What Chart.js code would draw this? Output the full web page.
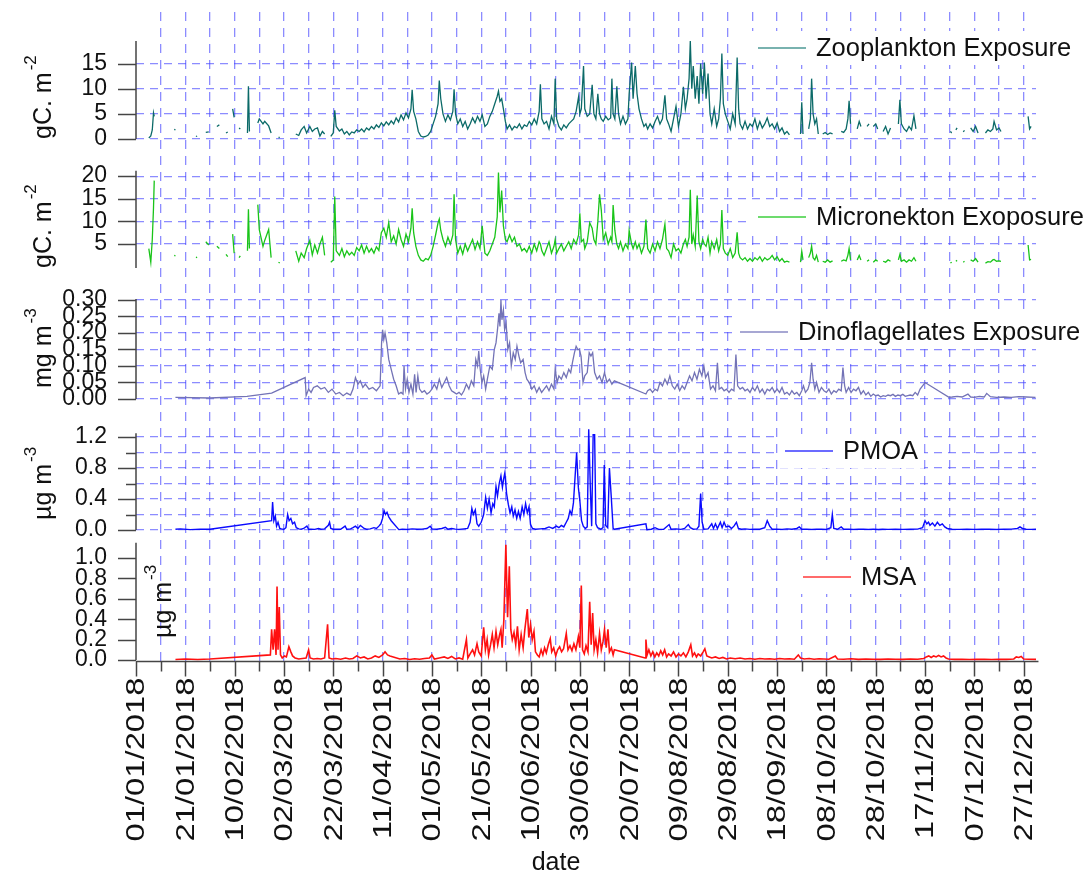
<!DOCTYPE html>
<html>
<head>
<meta charset="utf-8">
<title>Exposure and aerosol time series 2018</title>
<script src="https://cdn.jsdelivr.net/npm/chart.js@4.4.1/dist/chart.umd.min.js"></script>
<style>
  html, body { margin: 0; padding: 0; background: #fff; }
</style>
</head>
<body>
<canvas id="exposureChart" width="1091" height="881"></canvas>
<script>
// [day of 2018 (0 = 01/01/2018), value]; null breaks the line
const zooplankton = [
  [5.2,0.2],[6.0,0.6],[6.6,1.8],[7.1,5.2],[7.4,4.5],[8,null],
  [15.5,1.9],[16,1.8],[16.5,null],[24.3,0.5],[24.8,0.6],[25.3,null],
  [28.3,1.3],[29.5,1.4],[30,null],[32.8,2.5],[33.8,2.8],[34.3,null],
  [36.5,1.2],[37.2,1.4],[37.7,null],[39.2,6],[39.8,4.3],[40.3,null],
  [41.8,2.2],[42.3,2],[42.8,null],[45.2,1.2],[45.6,10.5],[46,1.5],[46.5,null],
  [49.4,3.2],[50,4],[51.5,3],[52.2,3.5],[53.8,2.6],[54.8,1.2],[55.3,null],
  [57.8,0.3],[58.3,0.3],[58.8,null],
  [64.8,1],[66,0.7],[67,1.8],[68.2,2.5],[69.2,1.2],[70.5,2.5],[71.5,1.5],[72.5,2],[73.6,2.2],[74.6,0.6],[75.6,1.5],[76.5,1.0],[77.2,null],
  [79,0.5],[80,1.2],[80.6,5.7],[81.2,2.5],[82.5,1.6],[83.5,2.0],[84.5,1.0],[85.5,1.5],[86.5,0.8],[87.5,1.4],[88.5,1.2],[89.5,1.8],
  [90.5,1.5],[91.5,2.0],[92.5,1.4],[93.5,2.2],[94.5,1.8],[95.5,2.5],[96.5,2.0],[97.5,2.8],[98.5,2.3],[99.5,3.2],
  [100.5,2.6],[101.5,3.4],[102.5,2.8],[103.5,3.6],[104.5,3.0],[105.5,4.2],[106.5,3.4],[107.5,4.8],[108.5,3.8],[109.5,5.2],
  [110.5,4.2],[111.5,6.0],[112,9.8],[112.6,5.5],[113.5,4.0],[114.5,1.5],[115.5,0.6],[116.5,0.4],[117.5,0.5],[118.5,0.8],[119.5,1.5],
  [120.5,3.0],[121.5,4.5],[122.5,7.0],[123,11.6],[123.6,8.0],[124.5,5.0],[125.5,3.5],[126.5,4.8],[127.5,3.8],[128.5,5.5],[129,9.9],[129.6,5.0],
  [130.5,3.0],[131.5,4.0],[132.5,2.5],[133.5,3.5],[134.5,2.0],[135.5,3.0],[136.5,4.2],[137.5,3.2],[138.5,4.5],[139.5,3.5],
  [140.4,4.8],[141.5,2.5],[142.5,3.0],[143.5,4.5],[144.5,5.5],[145.5,7.0],[146.5,8.5],[147,9.5],[147.6,7.5],[148.3,8.0],[149,6.0],[149.8,3.5],
  [150.5,2.0],[151.5,2.8],[152.5,1.8],[153.5,2.5],[154.5,2.2],[155.5,3.0],[156.5,2.0],[157.5,2.8],[158.5,2.5],[159.5,3.5],
  [160.5,2.8],[161.5,4.0],[162.5,3.0],[163.5,5.5],[164,10.9],[164.6,4.0],[165.5,3.0],[166.5,3.5],[167.5,2.0],[168.5,4.5],[169.5,3.0],
  [170,12.0],[170.6,4.0],[171.5,2.5],[172.5,1.8],[173.5,2.8],[174.5,2.2],[175.5,3.0],[176.5,3.5],[177.5,4.0],[178.5,5.5],[179.5,8.4],
  [180,5.0],[180.6,6.0],[181.5,14.5],[182,6.0],[183,4.5],[184,5.0],[185,10.8],[185.7,5.0],[186.5,4.0],[187.3,9.0],[188,5.0],[188.7,4.0],[189.5,3.5],
  [190.5,4.5],[191.5,3.8],[192.5,4.2],[193,12.0],[193.5,5.0],[194.2,4.0],[195,10.5],[195.7,5.0],[196.5,3.0],[197.5,4.5],[198.5,3.0],[199.5,4.0],
  [200,9.0],[201,15.2],[201.6,8.0],[202.5,14.5],[203.2,9.0],[204,6.0],[205,4.0],[206,2.5],[206.8,3.0],[207.5,2.0],[208.5,3.0],[209.5,2.2],
  [210.5,3.5],[211.5,4.5],[212.5,3.0],[213.5,4.0],[214.5,8.7],[215.2,4.0],[216,3.0],[217,1.5],[218,4.0],[219,6.5],
  [220,2.5],[221,5.0],[222,10.4],[222.8,6.0],[223.5,8.0],[224.3,12.0],[224.8,19.5],[225.4,10.0],[226,14.5],[226.8,8.0],[227.6,12.5],[228.3,7.0],[229,15.0],[229.8,9.0],
  [230.5,15.2],[231.2,8.0],[232,13.0],[232.8,5.0],[233.5,3.0],[234.5,6.0],[235.5,2.5],[236.3,4.0],[237,8.0],[237.6,17.0],[238.2,7.0],[239,5.0],
  [240,3.5],[241,2.0],[242,5.0],[243,3.0],[243.8,16.2],[244.4,6.0],[245,3.0],[246,2.0],[247,3.5],[248,2.0],[249,3.0],
  [250,2.5],[251,4.0],[252,2.0],[253,3.5],[254,2.2],[255,3.0],[256,4.2],[257,2.5],[258,3.0],[259,2.0],
  [260,3.2],[261,1.5],[262,2.2],[263,1.0],[264,1.5],[265,0.8],[265.5,null],
  [269.5,1.0],[270,7.3],[270.5,1.0],[271,null],
  [272.8,2.0],[273.5,4.0],[274,12.0],[274.6,5.0],[275.3,3.0],[276,4.0],[276.7,1.0],[277.2,null],
  [278.5,1.0],[279.5,1.3],[280.5,0.9],[281.5,1.2],[282.5,1.0],[283,null],
  [286,1.5],[287,1.3],[288,2.0],[288.7,4.0],[289.2,7.6],[289.8,3.0],[290.3,null],
  [292.5,2.0],[293.3,3.5],[294,2.5],[294.5,null],[296.5,2.5],[297.3,3.0],[297.8,null],
  [299,2.5],[300,3.0],[300.8,2.0],[301.3,null],[303,1.5],[304,2.5],[305,1.0],[306,2.2],[306.5,null],
  [309.2,3.0],[309.8,7.8],[310.4,3.0],[311.5,2.0],[312.5,1.5],[313.5,2.5],[314.5,1.8],[315.5,4.6],[316.3,2.0],[316.8,null],
  [330.3,1.5],[330.8,1.2],[331.3,null],[332.5,1.8],[333,2.2],[333.5,null],[335.5,1.4],[336,1.7],[336.5,null],
  [338.5,2.2],[339.5,1.5],[340.5,2.5],[341.5,1.2],[342,null],
  [344.5,1.2],[345.5,1.8],[346.5,1.5],[347.5,2.0],[348,3.5],[349,1.8],[350,2.2],[350.8,1.5],[351.3,null],
  [361.8,4.5],[362.4,2.0],[363,2.5]
];

const micronekton = [
  [5.2,4],[6.0,1],[6.6,6],[7.1,13],[7.4,19],[8,null],
  [15.5,2.5],[16,2.4],[16.5,null],[24.3,2],[24.8,2.1],[25.3,null],
  [28.3,5.5],[29.5,4.8],[30,null],[32.8,4.5],[33.8,4],[34.3,null],
  [36.5,2.7],[37.2,2.2],[37.7,null],[39.2,7.2],[39.8,3],[40.3,null],
  [41.8,2],[42.3,2.4],[42.8,null],[45.2,3.5],[45.6,12.7],[46,4],[46.5,null],
  [49.4,13.7],[50,8.2],[51.5,4.5],[52.2,5.8],[53.8,8.2],[54.8,2],[55.3,null],
  [57.8,1],[58.3,0.8],[58.8,null],
  [64.8,3.5],[66,1.2],[67,3],[68.2,2],[69.2,4],[70.5,5.8],[71.5,2.6],[72.5,4.8],[73.6,3],[74.6,5],[75.6,6.5],[76.5,2.5],[77.2,null],
  [79,1],[80,1.5],[80.6,15.5],[81.2,3.5],[82.5,2.5],[83.5,4],[84.5,2.2],[85.5,3.5],[86.5,2.6],[87.5,3.2],[88.5,2.5],[89.5,4.2],
  [90.5,3.5],[91.5,4.8],[92.5,3],[93.5,4.5],[94.5,3.2],[95.5,4.0],[96.5,3.0],[97.5,4.4],[98.5,3.6],[99.5,7.5],
  [100.5,8.5],[101.5,6.5],[102.5,9.7],[103.5,5.5],[104.5,6.8],[105.5,5.0],[106.5,8.2],[107.5,6.0],[108.5,4.5],[109.5,7.2],
  [110.5,5.5],[111.5,8.5],[112,12.9],[112.6,7.5],[113.5,4.5],[114.5,2.5],[115.5,1.5],[116.5,1.2],[117.5,1.8],[118.5,1.5],[119.5,2.5],
  [120.5,4.5],[121.5,7.0],[122.5,9.7],[123,10.5],[123.6,8.0],[124.5,6.0],[125.5,4.5],[126.5,6.5],[127.5,5.0],[128.5,7.0],[129,16],[129.6,6.0],
  [130.5,3.0],[131.5,4.5],[132.5,2.8],[133.5,5.0],[134.5,3.5],[135.5,4.8],[136.5,6.0],[137.5,3.8],[138.5,5.5],[139.5,4.0],
  [140.4,9.0],[141.5,3.0],[142.5,2.5],[143.5,3.5],[144.5,5.0],[145.5,6.5],[146.5,11.0],[147,20.8],[147.6,12],[148.3,16.8],[149,9.0],[149.8,6.0],
  [150.5,5.5],[151.5,7.0],[152.5,5.5],[153.5,6.5],[154.5,4.5],[155.5,5.0],[156.5,3.5],[157.5,4.0],[158.5,3.2],[159.5,4.5],
  [160.5,3.0],[161.5,5.0],[162.5,3.5],[163.5,5.5],[164,5],[164.6,3.5],[165.5,2.5],[166.5,4.0],[167.5,5.5],[168.5,3.0],[169.5,4.5],
  [170,6.0],[170.6,3.0],[171.5,4.0],[172.5,5.0],[173.5,3.5],[174.5,4.5],[175.5,5.5],[176.5,4.0],[177.5,6.0],[178.5,5.0],[179.5,7.0],
  [180,11.8],[180.6,5.5],[181.5,6.0],[182,4.0],[183,5.5],[184,9.7],[185,8.5],[185.7,6.0],[186.5,5.0],[187.3,10.0],[188,16.0],[188.7,12.5],[189.5,6.0],
  [190.5,7.5],[191.5,5.0],[192.5,6.5],[193,5.5],[193.5,13.6],[194.2,8.0],[195,5.0],[195.7,4.0],[196.5,5.5],[197.5,3.5],[198.5,5.0],[199.5,4.0],
  [200,8.0],[201,5.0],[201.6,4.0],[202.5,5.5],[203.2,4.0],[204,5.0],[205,3.0],[206,4.5],[206.8,10.4],[207.5,4.0],[208.5,3.0],[209.5,5.0],
  [210.5,3.5],[211.5,5.5],[212.5,4.0],[213.5,6.0],[214.5,9.4],[215.2,4.0],[216,3.5],[217,2.0],[218,5.0],[219,3.5],
  [220,4.0],[221,3.0],[222,5.0],[222.8,6.0],[223.5,4.5],[224.3,6.5],[224.8,17.0],[225.4,5.0],[226,7.0],[226.8,4.5],[227.6,15.7],[228.3,5.5],[229,4.0],[229.8,6.0],
  [230.5,5.0],[231.2,4.5],[232,6.5],[232.8,3.0],[233.5,5.5],[234.5,4.0],[235.5,6.0],[236.3,3.5],[237,5.0],[237.6,12.5],[238.2,4.0],[239,3.0],
  [240,2.5],[241,4.0],[242,2.0],[243,3.0],[243.8,7.6],[244.4,3.0],[245,2.0],[246,1.5],[247,2.0],[248,1.2],[249,1.8],
  [250,1.2],[251,2.0],[252,1.5],[253,2.2],[254,1.2],[255,2.0],[256,1.5],[257,1.8],[258,2.5],[259,1.5],
  [260,2.2],[261,1.2],[262,1.8],[263,1.0],[264,1.2],[265,1.0],[265.5,null],
  [269.5,1.0],[270,3.4],[270.5,1.5],[271,null],
  [272.8,2.0],[273.5,3.0],[274,4.5],[274.6,2.0],[275.3,1.5],[276,2.5],[276.7,1.0],[277.2,null],
  [278.5,1.2],[279.5,1.0],[280.5,1.5],[281.5,1.0],[282.5,1.3],[283,null],
  [286,1.2],[287,1.5],[288,1.3],[288.7,2.5],[289.2,4.0],[289.8,1.5],[290.3,null],
  [292.5,1.5],[293.3,2.5],[294,1.5],[294.5,null],[296.5,1.2],[297.3,1.5],[297.8,null],
  [299,1.0],[300,1.5],[300.8,1.2],[301.3,null],[303,1.2],[304,1.0],[305,1.5],[306,1.2],[306.5,null],
  [309.2,1.5],[309.8,2.7],[310.4,1.2],[311.5,1.5],[312.5,1.0],[313.5,1.5],[314.5,1.2],[315.5,2.0],[316.3,1.2],[316.8,null],
  [330.3,0.8],[330.8,1.0],[331.3,null],[332.5,1.2],[333,1.4],[333.5,null],[335.5,1.0],[336,1.2],[336.5,null],
  [338.5,1.5],[339.5,1.2],[340.5,1.8],[341.5,1.0],[342,null],
  [344.5,0.8],[345.5,1.1],[346.5,1.0],[347.5,1.5],[348,1.6],[349,1.2],[350,1.3],[350.8,1.2],[351.3,null],
  [361.8,4.8],[362.4,1.5],[363,1.6]
];

const dinoflagellates = [
  [16,0.005],[30,0.003],[45,0.008],[55,0.018],[68.6,0.065],[69,0.01],[70,0.03],[71,0.02],[72,0.035],[73.5,0.04],[75,0.03],[76.5,0.035],
  [78,0.02],[79.5,0.03],[81,0.015],[82.5,0.02],[84,0.01],[85.5,0.018],[87,0.012],[88,0.03],[89,0.065],[90,0.045],[91,0.055],[92,0.035],
  [93,0.045],[94.5,0.03],[96,0.035],[97.5,0.025],[99,0.04],[99.6,0.17],[100,0.21],[100.5,0.18],[101,0.2],[101.7,0.17],[102.5,0.12],
  [103.5,0.09],[104.5,0.06],[105.5,0.04],[106.5,0.015],[107.5,0.02],[108.3,0.015],[108.7,0.1],[109.3,0.03],[110,0.06],[110.7,0.02],
  [111.5,0.045],[112.3,0.015],[113,0.075],[113.6,0.02],[114.3,0.07],[115,0.03],[116,0.02],[117,0.025],[118,0.015],[119,0.02],[120,0.03],
  [121,0.045],[122,0.03],[123,0.06],[124,0.035],[125,0.05],[126,0.065],[127,0.04],[128,0.025],[129,0.02],[130,0.015],[131,0.02],
  [132,0.012],[133,0.025],[134,0.045],[135,0.03],[136,0.055],[137,0.04],[137.8,0.12],[138.5,0.1],[139,0.145],[139.6,0.09],[140.3,0.05],
  [141,0.07],[141.8,0.03],[142.5,0.06],[143.5,0.1],[144.5,0.09],[145.3,0.15],[146,0.17],[146.6,0.21],[147.2,0.26],[147.6,0.22],[148,0.3],
  [148.4,0.24],[149,0.27],[149.5,0.21],[150.1,0.23],[150.8,0.15],[151.5,0.17],[152.2,0.1],[153,0.14],[153.8,0.12],[154.5,0.16],[155.3,0.13],
  [156,0.11],[157,0.12],[157.8,0.08],[158.5,0.06],[159.5,0.05],[160.5,0.03],[161.5,0.04],[162.5,0.02],[163.5,0.035],[164.5,0.02],
  [165.5,0.03],[166.5,0.04],[167.5,0.025],[168.5,0.045],[169.5,0.03],[170,0.09],[170.8,0.05],[171.5,0.07],[172.5,0.06],[173.5,0.08],
  [174.5,0.065],[175.5,0.09],[176.3,0.08],[177,0.11],[177.8,0.14],[178.5,0.16],[179.2,0.15],[179.8,0.15],[180.5,0.13],[181.3,0.05],
  [182,0.07],[183,0.08],[183.8,0.14],[184.5,0.13],[185.2,0.14],[186,0.08],[187,0.06],[188,0.07],[189,0.05],[190,0.08],[191,0.05],
  [192,0.06],[193,0.045],[194,0.055],[206.8,0.015],[207.5,0.025],[208.5,0.03],[209.5,0.02],[210.5,0.03],[211.5,0.025],[212.5,0.05],
  [213.5,0.04],[214.5,0.06],[215.5,0.045],[216.5,0.07],[217.5,0.04],[218.5,0.03],[219.5,0.045],[220.5,0.025],[221.5,0.04],[222.5,0.03],
  [223.5,0.05],[224.5,0.07],[225.5,0.055],[226.5,0.08],[227.5,0.06],[228.5,0.09],[229.5,0.07],[230.3,0.1],[231,0.065],[232,0.08],
  [233,0.03],[234,0.04],[235,0.025],[235.8,0.11],[236.5,0.03],[237.5,0.035],[238.5,0.025],[239.5,0.03],[240.5,0.02],[241.5,0.03],
  [242.5,0.025],[243.3,0.135],[244,0.04],[245,0.03],[246,0.035],[247,0.025],[248,0.03],[249,0.02],[250,0.035],[251,0.025],[252,0.04],
  [253,0.02],[254,0.03],[255,0.015],[256,0.03],[257,0.025],[258,0.035],[259,0.02],[260,0.03],[261,0.02],[262,0.035],[263,0.015],
  [264,0.02],[265,0.012],[266,0.025],[267,0.015],[268,0.02],[269,0.01],[270,0.025],[270.7,0.04],[271.5,0.02],[272.5,0.03],[273.3,0.05],
  [274,0.11],[274.6,0.06],[275.3,0.03],[276,0.05],[277,0.02],[278,0.035],[279,0.025],[280,0.02],[281,0.03],[282,0.015],[283,0.025],
  [284,0.02],[285,0.03],[286,0.025],[286.7,0.095],[287.4,0.04],[288,0.02],[289,0.035],[290,0.02],[291,0.03],[292,0.025],[293,0.035],
  [294,0.015],[295,0.025],[296,0.012],[297,0.02],[298,0.008],[299,0.015],[300,0.01],[301,0.012],[302,0.006],[303,0.01],[304,0.008],
  [305,0.012],[306,0.01],[307,0.014],[308,0.008],[309,0.012],[310,0.01],[311,0.014],[312,0.008],[313,0.01],[314,0.012],[315,0.01],
  [316,0.02],[317,0.012],[318,0.03],[319,0.04],[320,0.05],[329.7,0.005],[331,0.006],[333,0.008],[335,0.006],[337.4,0.015],[338.5,0.006],
  [340,0.005],[342,0.008],[344,0.006],[345,0.017],[346.5,0.007],[349,0.005],[352,0.006],[355,0.005],[358,0.007],[361,0.006],[364.8,0.005]
];

const pmoa = [
  [16,0.01],[18,0.015],[22,0.005],[26,0.012],[30,0.01],[55,0.12],[55.4,0.36],[55.9,0.12],[56.5,0.18],[57,0.05],[57.6,0.1],[58.3,0.02],
  [59,0.015],[60,0.01],[60.8,0.03],[61.5,0.2],[62.1,0.12],[62.8,0.15],[63.5,0.08],[64.3,0.1],[65,0.03],[66,0.015],[67,0.01],[68,0.02],
  [69.3,0.05],[70,0.01],[71,0.012],[72.5,0.008],[74,0.02],[75,0.01],[76.5,0.015],[78,0.06],[78.5,0.1],[79,0.02],[80,0.01],[81.5,0.012],
  [83,0.01],[84.8,0.05],[85.5,0.01],[87,0.015],[88,0.03],[89,0.05],[90,0.02],[91,0.06],[91.8,0.04],[92.5,0.02],[93.5,0.01],[95,0.015],
  [96.5,0.03],[97.5,0.02],[98.5,0.05],[99.3,0.08],[100,0.15],[100.6,0.25],[101.2,0.2],[101.8,0.23],[102.5,0.17],[103.5,0.12],[106.6,0.005],
  [108,0.01],[110,0.008],[112,0.015],[114,0.01],[116,0.012],[118,0.02],[119.3,0.05],[120,0.015],[122,0.01],[124,0.02],[125.5,0.035],
  [126.5,0.01],[128,0.02],[129.5,0.012],[131,0.008],[133,0.015],[134.5,0.02],[135.5,0.1],[136.2,0.28],[136.8,0.2],[137.6,0.26],[138.3,0.08],
  [139,0.05],[140,0.1],[141,0.2],[141.8,0.42],[142.5,0.28],[143.2,0.4],[144,0.22],[144.7,0.34],[145.3,0.3],[146,0.56],[146.6,0.44],
  [147.3,0.6],[148,0.7],[148.6,0.55],[149.1,0.66],[149.6,0.74],[150.3,0.47],[151,0.33],[151.7,0.22],[152.4,0.3],[153,0.18],[153.7,0.26],
  [154.4,0.15],[155.1,0.24],[155.8,0.15],[156.6,0.3],[157.3,0.2],[158,0.34],[158.7,0.22],[159.4,0.3],[160,0.07],[160.8,0.02],[162,0.01],
  [164,0.015],[166,0.02],[167.5,0.04],[169,0.02],[170.5,0.05],[171.5,0.03],[172.5,0.06],[173.5,0.04],[174.5,0.1],[175.3,0.15],[176,0.25],
  [176.7,0.2],[177.4,0.35],[178,0.65],[178.7,1.0],[179.4,0.55],[180,0.38],[180.7,0.12],[181.4,0.05],[182.2,0.02],[183,0.04],[183.6,1.3],
  [184.3,0.5],[184.8,0.05],[185.4,1.23],[186,1.23],[186.5,0.08],[187.2,0.03],[188.5,0.01],[189.4,0.03],[189.9,0.84],[190.5,0.06],
  [191.3,0.03],[192,0.8],[192.7,0.45],[193.5,0.02],[194,0.01],[206.8,0.08],[207.2,0.005],[209,0.01],[210.5,0.03],[212,0.008],[214,0.01],
  [216.2,0.07],[217,0.01],[219,0.015],[221,0.008],[222.5,0.02],[224,0.07],[224.8,0.03],[226,0.01],[227.5,0.015],[228.3,0.05],[229,0.47],
  [229.6,0.1],[230.3,0.01],[232,0.015],[233.5,0.08],[234.2,0.02],[235,0.08],[235.8,0.02],[237,0.1],[237.7,0.03],[238.5,0.1],[239.3,0.04],
  [240.5,0.05],[241.5,0.02],[242.5,0.05],[243.5,0.1],[244.3,0.02],[245.5,0.01],[247,0.015],[249,0.008],[251,0.012],[253,0.01],[255,0.03],
  [256,0.12],[257,0.05],[258,0.01],[260,0.012],[262,0.008],[264,0.015],[266,0.01],[268,0.02],[269,0.04],[270,0.01],[272,0.012],[274,0.008],
  [276,0.01],[278,0.012],[280,0.008],[281.8,0.03],[282.4,0.2],[283,0.02],[284.5,0.01],[286,0.04],[287,0.01],[289,0.012],[291,0.008],
  [293,0.01],[295,0.012],[297,0.008],[299,0.01],[301,0.006],[302.8,0.01],[305,0.008],[308,0.012],[311,0.008],[314,0.01],[317,0.012],
  [319,0.03],[320,0.12],[320.7,0.08],[321.4,0.1],[322,0.06],[323,0.09],[324,0.05],[325,0.1],[326,0.06],[327,0.08],[328,0.04],[329,0.02],
  [331,0.01],[334,0.008],[337,0.012],[340,0.008],[343,0.01],[346,0.012],[349,0.008],[352,0.01],[355,0.012],[357.5,0.02],[358.5,0.04],
  [359.5,0.02],[361,0.01],[363,0.008],[365.5,0.01]
];

const msa = [
  [16,0.005],[20,0.01],[25,0.005],[30,0.01],[54.5,0.05],[55,0.3],[55.6,0.1],[56.2,0.3],[56.8,0.05],[57.2,0.72],[57.6,0.1],[58.1,0.52],
  [58.6,0.05],[59.3,0.02],[60.2,0.04],[61,0.03],[62,0.13],[62.8,0.08],[63.5,0.04],[64.5,0.02],[66,0.01],[67.5,0.015],[69,0.02],[70,0.1],
  [70.6,0.02],[72,0.01],[73.5,0.015],[75,0.01],[76.5,0.02],[77.7,0.35],[78.3,0.02],[79.5,0.01],[81,0.015],[83,0.008],[85,0.02],[86.5,0.01],
  [88,0.015],[89.5,0.04],[91,0.02],[92.5,0.03],[94,0.01],[95.5,0.02],[97,0.04],[98.5,0.025],[100,0.05],[101,0.08],[102,0.05],[103,0.04],
  [107,0.01],[109,0.015],[111,0.005],[113,0.012],[115,0.008],[117,0.015],[119,0.02],[120,0.05],[121,0.01],[123,0.02],[125,0.03],
  [126.5,0.015],[128,0.035],[129.5,0.01],[131,0.02],[132.5,0.008],[134,0.2],[134.6,0.02],[135.5,0.06],[136.5,0.1],[137.3,0.05],
  [138.3,0.16],[139,0.08],[140,0.04],[141,0.32],[141.7,0.1],[142.4,0.2],[143,0.05],[143.8,0.15],[144.5,0.25],[145.2,0.12],[146,0.28],
  [146.7,0.15],[147.4,0.24],[148,0.3],[148.5,0.12],[149.2,0.4],[150,1.13],[150.5,0.6],[150.7,0.42],[151.4,0.92],[152,0.3],[152.6,0.2],
  [153.3,0.27],[154,0.15],[154.7,0.33],[155.4,0.1],[156.2,0.25],[157,0.12],[157.7,0.3],[158.7,0.5],[159.3,0.22],[160,0.35],[160.7,0.2],
  [161.4,0.28],[162,0.08],[162.8,0.05],[163.5,0.03],[164.3,0.1],[165,0.05],[165.7,0.12],[166.4,0.07],[167.2,0.15],[168,0.21],[168.6,0.08],
  [169.4,0.12],[170.2,0.04],[171,0.1],[171.8,0.13],[172.6,0.08],[173.4,0.11],[174.5,0.26],[175.2,0.1],[176,0.14],[176.8,0.09],[177.6,0.16],
  [178.4,0.1],[179.4,0.23],[180,0.12],[180.6,0.73],[181.1,0.1],[181.8,0.06],[182.5,0.14],[183.3,0.08],[184,0.57],[184.6,0.15],[185.2,0.46],
  [185.8,0.1],[186.5,0.2],[187.2,0.07],[188,0.26],[188.7,0.1],[189.4,0.18],[190,0.3],[190.7,0.12],[191.4,0.3],[192,0.08],[192.8,0.12],
  [193.5,0.05],[194,0.1],[206.5,0.02],[206.8,0.2],[207.3,0.05],[208,0.1],[208.8,0.04],[209.6,0.08],[210.4,0.03],[211.2,0.07],[212,0.04],
  [212.8,0.09],[213.6,0.05],[214.4,0.1],[215.2,0.03],[216,0.06],[217,0.04],[218,0.08],[219,0.03],[220,0.06],[221,0.04],[222,0.07],
  [223,0.03],[224,0.08],[225,0.15],[225.7,0.04],[226.5,0.07],[227.3,0.03],[228,0.06],[229,0.04],[230,0.08],[230.7,0.11],[231.5,0.04],
  [232.5,0.03],[233.5,0.02],[235,0.03],[236.5,0.015],[238,0.025],[239.5,0.01],[241,0.02],[243,0.012],[245,0.02],[247,0.01],[249,0.015],
  [251,0.008],[253,0.015],[255,0.01],[257,0.012],[259,0.008],[261,0.015],[263,0.01],[265,0.012],[267,0.008],[268.6,0.05],[269.5,0.02],
  [271,0.01],[273,0.015],[275,0.008],[277,0.012],[279,0.01],[281,0.008],[283.6,0.04],[284.5,0.01],[287,0.008],[290,0.012],[293,0.006],
  [296,0.01],[299,0.008],[302,0.006],[305,0.01],[308,0.008],[311,0.006],[314,0.01],[317,0.008],[319.5,0.015],[320.5,0.03],[321.5,0.04],
  [322.5,0.025],[323.5,0.04],[324.5,0.03],[325.5,0.045],[326.5,0.03],[327.5,0.04],[328.5,0.02],[329.5,0.01],[332,0.006],[335,0.008],
  [338,0.005],[341,0.008],[344,0.006],[347,0.005],[350,0.008],[353,0.006],[356,0.01],[357,0.03],[358,0.025],[359,0.035],[360,0.01],
  [362,0.008],[365.5,0.006]
];

// axis ticks for each panel
const zooTicks = [0, 5, 10, 15];
const microTicks = [5, 10, 15, 20];
const dinoTicks = [0, 0.05, 0.1, 0.15, 0.2, 0.25, 0.3];
const pmoaTicks = [0, 0.2, 0.4, 0.6, 0.8, 1.0, 1.2];
const msaTicks = [0, 0.2, 0.4, 0.6, 0.8, 1.0];

const FONT = "'Liberation Sans', Arial, Helvetica, sans-serif";
const GRID_BLUE = 'rgba(70, 70, 255, 0.62)';
const AXIS_GREY = '#454545';

Chart.defaults.font.family = FONT;
Chart.defaults.color = '#111';

function dayLabel(d) {
  const date = new Date(Date.UTC(2018, 0, 1 + d));
  const dd = String(date.getUTCDate()).padStart(2, '0');
  const mm = String(date.getUTCMonth() + 1).padStart(2, '0');
  return dd + '/' + mm + '/' + date.getUTCFullYear();
}

function toPoints(pairs) {
  return pairs.map(p => ({ x: p[0], y: p[1] }));
}

// one stacked y axis per panel; min/max leave room for the gaps between panels
const panels = [
  { id: 'msa', ticks: msaTicks, min: -0.0098, max: 1.196, h: 123, order: 1, span: [0, 1.15], grid: false,
    fmt: v => v.toFixed(1), minor: [] },
  { id: 'pmoa', ticks: pmoaTicks, min: -0.103, max: 1.484, h: 123, order: 2, span: [0, 1.25], grid: true,
    fmt: v => (Math.round(v * 10) % 4 === 0 ? v.toFixed(1) : ''), minor: [0.2, 0.6, 1.0] },
  { id: 'dino', ticks: dinoTicks, min: -0.0485, max: 0.3515, h: 132, order: 3, span: [0, 0.303], grid: true,
    fmt: v => v.toFixed(2), minor: [] },
  { id: 'micro', ticks: microTicks, min: -3.6, max: 24.66, h: 128, order: 4, span: [-0.3, 21.2], grid: true,
    fmt: v => String(v), minor: [] },
  { id: 'zoo', ticks: zooTicks, min: -3.18, max: 25.25, h: 143, order: 5, span: [0, 19.5], grid: true,
    fmt: v => String(v), minor: [] }
];

const scales = {};
panels.forEach(p => {
  scales[p.id] = {
    type: 'linear',
    position: 'left',
    stack: 'panels',
    stackWeight: p.h,
    weight: p.order,
    min: p.min,
    max: p.max,
    afterBuildTicks: axis => { axis.ticks = p.ticks.map(v => ({ value: v })); },
    afterFit: axis => { axis.width = 136; },
    ticks: {
      autoSkip: false,
      padding: 0,
      font: { size: 23, lineHeight: 1 },
      color: '#111',
      callback: v => p.fmt(v)
    },
    // tick marks are drawn by the frame plugin; the invisible ones only push the labels left
    grid: { display: p.grid, color: GRID_BLUE, lineWidth: 1.2, drawTicks: true, tickLength: 29, tickColor: 'rgba(0,0,0,0)' },
    border: { display: false, dash: [8, 6] }
  };
});

scales.x = {
  type: 'linear',
  position: 'bottom',
  min: 0,
  max: 365,
  afterBuildTicks: axis => {
    const t = [];
    for (let d = 0; d <= 360; d += 10) t.push({ value: d });
    axis.ticks = t;
  },
  afterFit: axis => { axis.height = 220; },
  ticks: { display: false },
  grid: {
    color: c => (c.tick && c.tick.value === 0 ? 'rgba(0,0,0,0)' : GRID_BLUE),
    lineWidth: 1.3,
    drawTicks: false
  },
  border: { display: false, dash: [9, 7] }
};

const legendItems = [
  { text: 'Zooplankton Exposure', color: '#4d9994', x: 758, y: 48 },
  { text: 'Micronekton Exoposure', color: '#3ccf3c', x: 758, y: 217 },
  { text: 'Dinoflagellates Exposure', color: '#8a8ac4', x: 740, y: 332 },
  { text: 'PMOA', color: '#3a3aff', x: 785, y: 451 },
  { text: 'MSA', color: '#ff3a3a', x: 803, y: 577 }
];

const axisTitles = [
  { main: 'gC. m', sup: '-2', x: 51, y: 139 },
  { main: 'gC. m', sup: '-2', x: 51, y: 268 },
  { main: 'mg m', sup: '-3', x: 51, y: 388 },
  { main: '\u00b5g m', sup: '-3', x: 51, y: 520 },
  { main: '\u00b5g m', sup: '-3', x: 171, y: 638 }
];

function stroke(ctx, x1, y1, x2, y2) {
  ctx.beginPath();
  ctx.moveTo(x1, y1);
  ctx.lineTo(x2, y2);
  ctx.stroke();
}

// axis lines, tick marks, date labels, rotated unit titles, legends and the "date" title
const framePlugin = {
  id: 'frame',
  afterDraw(chart) {
    const ctx = chart.ctx;
    const area = chart.chartArea;
    const xs = chart.scales.x;
    ctx.save();
    ctx.strokeStyle = AXIS_GREY;
    ctx.lineWidth = 1.5;

    panels.forEach(p => {
      const s = chart.scales[p.id];
      const x0 = area.left;
      stroke(ctx, x0, s.getPixelForValue(p.span[0]), x0, s.getPixelForValue(p.span[1]));
      p.ticks.forEach(v => {
        const len = p.minor.includes(v) ? 10 : 18;
        const y = Math.round(s.getPixelForValue(v)) + 0.5;
        stroke(ctx, x0 - len, y, x0, y);
      });
    });

    const yb = area.bottom + 0.5;
    stroke(ctx, area.left, yb, xs.getPixelForValue(366), yb);
    for (let d = 0; d <= 360; d += 10) {
      const x = Math.round(xs.getPixelForValue(d)) + 0.5;
      stroke(ctx, x, yb, x, yb + (d % 20 === 0 ? 15 : 10));
    }

    // rotated date labels, drawn a little elongated along the reading direction
    ctx.fillStyle = '#111';
    ctx.font = '25px ' + FONT;
    ctx.textAlign = 'right';
    ctx.textBaseline = 'middle';
    for (let d = 0; d <= 360; d += 20) {
      ctx.save();
      ctx.translate(xs.getPixelForValue(d) + 1.5, yb + 16);
      ctx.rotate(-Math.PI / 2);
      ctx.scale(1.31, 1);
      ctx.fillText(dayLabel(d), 0, 0);
      ctx.restore();
    }

    ctx.textBaseline = 'alphabetic';
    axisTitles.forEach(t => {
      ctx.save();
      ctx.translate(t.x, t.y);
      ctx.rotate(-Math.PI / 2);
      ctx.font = '25px ' + FONT;
      ctx.textAlign = 'left';
      ctx.fillText(t.main, 0, 0);
      const w = ctx.measureText(t.main).width;
      ctx.font = '17px ' + FONT;
      ctx.fillText(t.sup, w + 2, -15);
      ctx.restore();
    });

    ctx.font = '25px ' + FONT;
    ctx.textAlign = 'center';
    ctx.textBaseline = 'middle';
    ctx.fillText('date', 556, 863);

    ctx.font = '25.5px ' + FONT;
    ctx.textAlign = 'left';
    legendItems.forEach(it => {
      const tw = ctx.measureText(it.text).width;
      ctx.fillStyle = '#fff';
      ctx.fillRect(it.x - 6, it.y - 17, 48 + 10 + tw + 12, 34);
      ctx.strokeStyle = it.color;
      ctx.lineWidth = 1.5;
      stroke(ctx, it.x, it.y, it.x + 48, it.y);
      ctx.fillStyle = '#111';
      ctx.fillText(it.text, it.x + 58, it.y + 1);
    });
    ctx.restore();
  }
};

const seriesStyle = (data, axis, color, width) => ({
  data: toPoints(data),
  yAxisID: axis,
  borderColor: color,
  borderWidth: width,
  pointRadius: 0,
  spanGaps: false,
  tension: 0
});

new Chart(document.getElementById('exposureChart'), {
  type: 'line',
  data: {
    datasets: [
      seriesStyle(zooplankton, 'zoo', '#0b6a68', 1.3),
      seriesStyle(micronekton, 'micro', '#19c419', 1.3),
      seriesStyle(dinoflagellates, 'dino', '#7373b6', 1.3),
      seriesStyle(pmoa, 'pmoa', '#0a0aff', 1.4),
      seriesStyle(msa, 'msa', '#ff1010', 1.6)
    ]
  },
  options: {
    responsive: false,
    animation: false,
    devicePixelRatio: 1,
    layout: { padding: { top: 12, right: 55, left: 0, bottom: 0 } },
    plugins: { legend: { display: false }, tooltip: { enabled: false } },
    scales: scales
  },
  plugins: [framePlugin]
});
</script>
</body>
</html>
